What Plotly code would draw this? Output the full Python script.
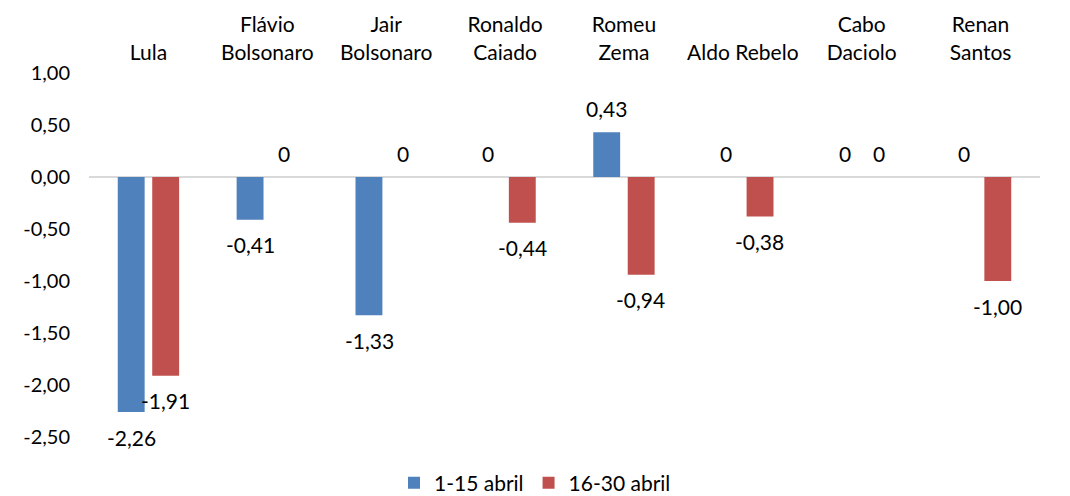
import plotly.graph_objects as go

categories = ["Lula", "Flávio<br>Bolsonaro", "Jair<br>Bolsonaro", "Ronaldo<br>Caiado",
              "Romeu<br>Zema", "Aldo Rebelo", "Cabo<br>Daciolo", "Renan<br>Santos"]
series_names = ["1-15 abril", "16-30 abril"]
values_1_15 = [-2.26, -0.41, -1.33, 0, 0.43, 0, 0, 0]
values_16_30 = [-1.91, 0, 0, -0.44, -0.94, -0.38, 0, -1.00]
y_ticks = [1.0, 0.5, 0.0, -0.5, -1.0, -1.5, -2.0, -2.5]

colors = ["#4F81BD", "#C0504D"]
FONT = "Lato, Carlito, 'Open Sans', sans-serif"


def fmt(v):
    if v == 0:
        return "0"
    return f"{v:.2f}".replace(".", ",")


fig = go.Figure()
all_series = [values_1_15, values_16_30]
for name, vals, col in zip(series_names, all_series, colors):
    fig.add_trace(go.Bar(x=categories, y=vals, name=name, marker_color=col,
                         marker_line_width=0, hoverinfo="skip"))

annotations = []
for i, vals in enumerate(all_series):
    shift_x = -17 if i == 0 else 17
    for c, v in zip(categories, vals):
        annotations.append(dict(
            x=c, y=v, xref="x", yref="y", text=fmt(v), showarrow=False,
            xshift=shift_x, yshift=(24 if v >= 0 else -25), yanchor="middle",
            font=dict(family=FONT, size=21, color="#000000")))

fig.update_layout(
    width=1070, height=496,
    margin=dict(l=89, r=30, t=73, b=59, autoexpand=False),
    paper_bgcolor="white", plot_bgcolor="white",
    barmode="group", bargap=0.42, bargroupgap=0.22,
    font=dict(family=FONT, size=20, color="#000000"),
    annotations=annotations,
    showlegend=True,
    legend=dict(orientation="h", x=0.5, xanchor="center", xref="container",
                y=1 - 483 / 496, yanchor="middle", yref="container",
                font=dict(family=FONT, size=21), traceorder="normal",
                itemwidth=30),
    xaxis=dict(side="top", showgrid=False, showline=False, ticks="", automargin=False,
               tickfont=dict(family=FONT, size=21), ticklabelstandoff=8),
    yaxis=dict(range=[-2.5, 1.0], tickvals=y_ticks,
               ticktext=[fmt(t) if t != 0 else "0,00" for t in y_ticks],
               showgrid=False, showline=False, ticks="", zeroline=True, automargin=False,
               zerolinecolor="#D9D9D9", zerolinewidth=2, ticklabelstandoff=18,
               tickfont=dict(family=FONT, size=20)),
)

fig.write_html("out.html", config={"displayModeBar": False, "staticPlot": True},
               post_script="document.body.style.margin='0';document.body.style.padding='0';")
